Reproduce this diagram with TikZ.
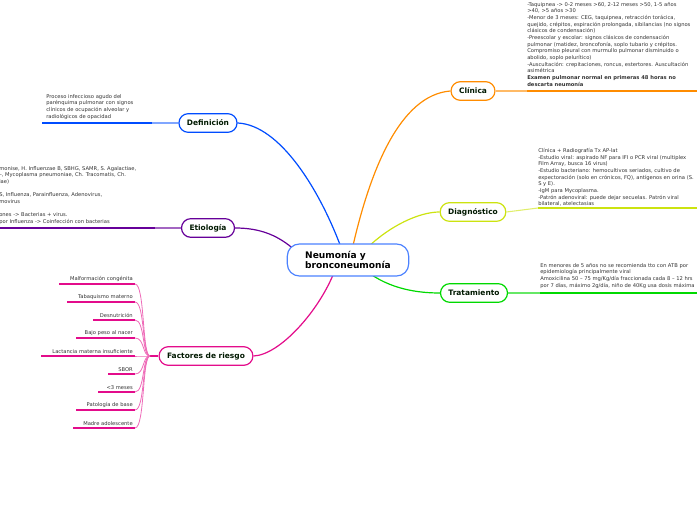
\documentclass[tikz,border=0pt]{standalone}
\usepackage{fontspec}
\setmainfont{DejaVu Sans}
\begin{document}
\begin{tikzpicture}[x=0.75pt,y=-0.75pt,
 topic/.style={draw,rounded corners=7pt,line width=0.9pt,fill=white,font=\fontsize{5.6}{6.5}\selectfont\bfseries,text=black!75!green!40!black,minimum height=14pt,inner xsep=6pt},
 txt/.style={anchor=north west,align=left,inner sep=0pt,font=\fontsize{3.9}{5}\selectfont,text=black!80},
 item/.style={anchor=south east,inner sep=1.5pt,font=\fontsize{3.9}{5}\selectfont,text=black!80}]
\useasboundingbox (0,0) rectangle (697,520);
\clip (0,0) rectangle (697,520);
\colorlet{colO}{orange!90!yellow}
\colorlet{colY}{yellow!80!green}
\colorlet{colG}{green!85!black}
\colorlet{colB}{blue!70!cyan}
\colorlet{colP}{violet!80!blue}
\colorlet{colM}{magenta!90!violet}
% topics
\node[topic,draw=colO] (cl) at (473,91) {Clínica};
\node[topic,draw=colY] (di) at (473,212) {Diagnóstico};
\node[topic,draw=colG] (tr) at (474,293) {Tratamiento};
\node[topic,draw=colB] (de) at (208,123) {Definición};
\node[topic,draw=colP] (et) at (208,228) {Etiología};
\node[topic,draw=colM] (fr) at (206,356) {Factores de riesgo};
% connectors
\draw[colO,line width=0.9pt] (352,250) .. controls (370,170) and (400,95) .. (cl.west);
\draw[colY,line width=0.9pt] (365,250) .. controls (390,225) and (420,212) .. (di.west);
\draw[colG,line width=0.9pt] (365,270) .. controls (390,290) and (420,293) .. (tr.west);
\draw[colB,line width=0.9pt] (342,250) .. controls (320,190) and (280,125) .. (de.east);
\draw[colP,line width=0.9pt] (300,255) .. controls (280,235) and (260,228) .. (et.east);
\draw[colM,line width=0.9pt] (335,270) .. controls (320,310) and (280,355) .. (fr.east);
% central
\node[draw=colB!70,line width=0.9pt,rounded corners=9pt,fill=white,minimum width=91pt,minimum height=24pt,align=left,font=\fontsize{6.8}{8}\selectfont\bfseries,inner xsep=12pt,text=black] (c) at (348,260) {Neumonía y\\bronconeumonía};
% underlines
\coordinate (clE) at (697,91); \coordinate (diE) at (697,208); \coordinate (trE) at (697,293);
\coordinate (deE) at (42,123); \coordinate (etE) at (0,228);
\draw[colO!60,line width=0.8pt] (cl.east) -- (527,91);
\draw[colO,line width=1.3pt] (527,91) -- (clE);
\draw[colY!60,line width=0.8pt] (di.east) -- (538,208);
\draw[colY,line width=1.3pt] (538,208) -- (diE);
\draw[colG!60,line width=0.8pt] (tr.east) -- (540,293);
\draw[colG,line width=1.3pt] (540,293) -- (trE);
\draw[colB!50,line width=0.8pt] (de.west) -- (152,123);
\draw[colB,line width=1.3pt] (152,123) -- (deE);
\draw[colP!60,line width=0.8pt] (et.west) -- (155,228);
\draw[colP,line width=1.3pt] (155,228) -- (etE);
% texts
\node[txt] (tcl) at (527,-5) {Examen físico:\\-Taquipnea -> 0-2 meses >60, 2-12 meses >50, 1-5 años\\>40, >5 años >30\\-Menor de 3 meses: CEG, taquipnea, retracción torácica,\\quejido, crépitos, espiración prolongada, sibilancias (no signos\\clásicos de condensación)\\-Preescolar y escolar: signos clásicos de condensación\\pulmonar (matidez, broncofonía, soplo tubario y crépitos.\\Compromiso pleural con murmullo pulmonar disminuido o\\abolido, soplo pelurítico)\\-Auscultación: crepitaciones, roncus, estertores. Auscultación\\asimétrica\\\textbf{Examen pulmonar normal en primeras 48 horas no}\\\textbf{descarta neumonía}};
\node[txt] (tdi) at (538,148) {Clínica + Radiografía Tx AP-lat\\-Estudio viral: aspirado NF para IFI o PCR viral (multiplex\\Film Array, busca 16 virus)\\-Estudio bacteriano: hemocultivos seriados, cultivo de\\expectoración (solo en crónicos, FQ), antígenos en orina (S.\\S y E).\\-IgM para Mycoplasma.\\-Patrón adenoviral: puede dejar secuelas. Patrón viral\\bilateral, atelectasias};
\node[txt] (ttr) at (540,263) {En menores de 5 años no se recomienda tto con ATB por\\epidemiología principalmente viral\\Amoxicilina 50 – 75 mg/Kg/día fraccionada cada 8 – 12 hrs\\por 7 días, máximo 2g/día, niño de 40Kg usa dosis máxima};
\node[txt] (tde) at (46,94) {Proceso infeccioso agudo del\\parénquima pulmonar con signos\\clínicos de ocupación alveolar y\\radiológicos de opacidad};
\node[txt] (tet) at (-1,166) {monise, H. Influenzae B, SBHG, SAMR, S. Agalactiae,\\–, Mycoplasma pneumoniae, Ch. Tracomatis, Ch.\\iae)\\ \\S, Influenza, Parainfluenza, Adenovirus,\\movirus\\ \\ones -> Bacterias + virus.\\por Influenza -> Coinfección con bacterias};
% risk factors
\coordinate (j) at (150,356);
\draw[colM,line width=0.9pt] (j) -- (fr.west);
\foreach \t/\y/\l [count=\i] in {Malformación congénita/284/59, Tabaquismo materno/302/67, Desnutrición/320/93, Bajo peso al nacer/338/76, Lactancia materna insuficiente/356/41, SBOR/374/108, <3 meses/392/98, Patología de base/410/76, Madre adolescente/428/73}{
 \coordinate (a\i) at (\l,\y);
 \coordinate (b\i) at (135,\y);
 \draw[colM,line width=1.1pt] (a\i) -- (b\i);
 \node[item] (f\i) at (b\i) {\t};
 \draw[colM!60,line width=0.6pt] (b\i) .. controls (145,\y) and (142,356) .. (j);
}
\end{tikzpicture}
\end{document}
